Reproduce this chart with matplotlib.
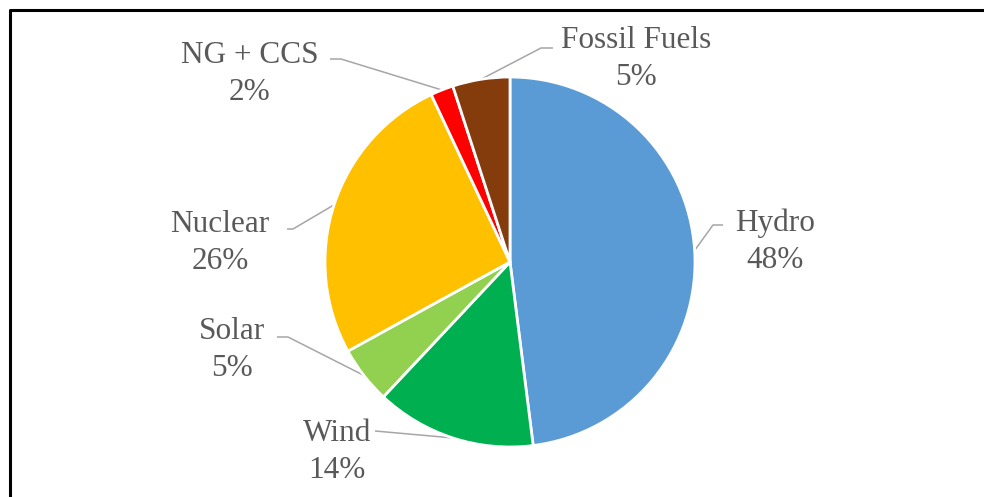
import numpy as np
import matplotlib
matplotlib.use('Agg')
from matplotlib import pyplot as plt
from matplotlib.lines import Line2D

# Electricity mix shares (%), clockwise from 12 o'clock
sources = ['Hydro', 'Wind', 'Solar', 'Nuclear', 'NG + CCS', 'Fossil Fuels']
shares = [48, 14, 5, 26, 2, 5]
colors = ['#5B9BD5', '#00B050', '#92D050', '#FFC000', '#FF0000', '#843C0C']

# label layout in pixels: text centre, elbow point, end of horizontal stub
label_xy = {'Hydro': (775, 242), 'Wind': (337, 452), 'Solar': (232, 350),
            'Nuclear': (220, 243), 'NG + CCS': (250, 74), 'Fossil Fuels': (636, 59)}
elbow_xy = {'Hydro': (713, 225), 'Wind': (375, 431), 'Solar': (288, 337),
            'Nuclear': (293, 229), 'NG + CCS': (341, 59), 'Fossil Fuels': (541, 48)}
stub_xy = {'Hydro': (723, 225), 'Wind': (375, 431), 'Solar': (277, 337),
           'Nuclear': (287, 229), 'NG + CCS': (330, 59), 'Fossil Fuels': (553, 48)}

W, H = 984, 497
cx, cy, R = 510, 262, 185

plt.rcParams['font.family'] = ['Liberation Serif', 'DejaVu Serif']

fig = plt.figure(figsize=(W / 100, H / 100), dpi=100)
ax = fig.add_axes([0, 0, 1, 1])

wedges, _ = ax.pie(shares, colors=colors, startangle=90, counterclock=False,
                   radius=1, center=(0, 0),
                   wedgeprops=dict(edgecolor='white', linewidth=2))


def to_data(px, py):
    return (px - cx) / R, (cy - py) / R


ax.set_xlim(-cx / R, (W - cx) / R)
ax.set_ylim(-(H - cy) / R, cy / R)
ax.set_aspect('equal')
ax.axis('off')

total = sum(shares)
for w, name, val in zip(wedges, sources, shares):
    ang = np.deg2rad((w.theta1 + w.theta2) / 2)
    ex, ey = np.cos(ang), np.sin(ang)
    bx, by = to_data(*elbow_xy[name])
    sx, sy = to_data(*stub_xy[name])
    ax.plot([ex, bx, sx], [ey, by, sy], color='#A6A6A6', lw=1.1,
            solid_capstyle='butt', zorder=0)
    tx, ty = to_data(*label_xy[name])
    ax.text(tx, ty, f'{name}\n{round(100 * val / total)}%', ha='center', va='center',
            fontsize=22.5, color='#595959', linespacing=1.38)

# chart frame (only left and top edges fall inside the image)
fig.add_artist(Line2D([9.5 / W, 9.5 / W, 1.01], [-0.01, 1 - 9.5 / H, 1 - 9.5 / H],
                      transform=fig.transFigure, color='black', lw=2.2))

fig.savefig('out.png', dpi=100)
